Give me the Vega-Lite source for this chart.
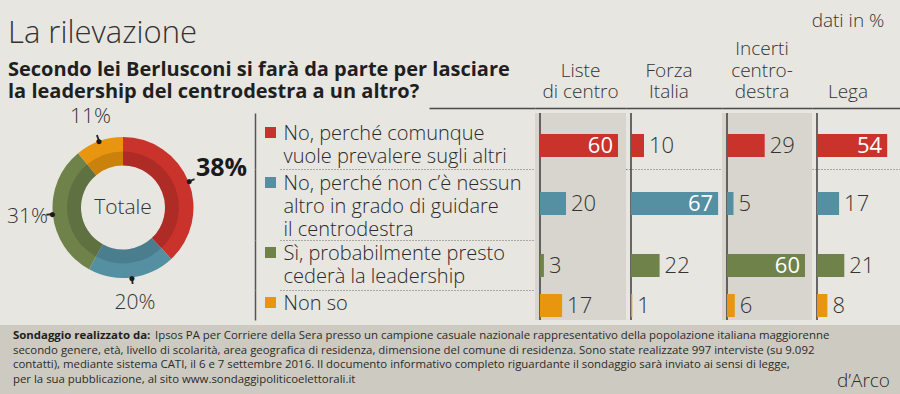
{
"$schema": "https://vega.github.io/schema/vega-lite/v6.json",
"background": "#e8e6e1",
"autosize": {"type": "none"},
"padding": {"left": 0, "top": 113, "right": 900, "bottom": 281},
"config": {"view": {"stroke": null}, "font": "Open Sans", "concat": {"spacing": 0}},
"datasets": {
 "totale": [
  {"id": 1, "risposta": "No, perché comunque vuole prevalere sugli altri", "valore": 38},
  {"id": 2, "risposta": "No, perché non c’è nessun altro in grado di guidare il centrodestra", "valore": 20},
  {"id": 3, "risposta": "Sì, probabilmente presto cederà la leadership", "valore": 31},
  {"id": 4, "risposta": "Non so", "valore": 11}
 ],
 "elettorati": [
  {"gruppo": "Liste di centro", "id": 1, "risposta": "No, perché comunque vuole prevalere sugli altri", "valore": 60},
  {"gruppo": "Liste di centro", "id": 2, "risposta": "No, perché non c’è nessun altro in grado di guidare il centrodestra", "valore": 20},
  {"gruppo": "Liste di centro", "id": 3, "risposta": "Sì, probabilmente presto cederà la leadership", "valore": 3},
  {"gruppo": "Liste di centro", "id": 4, "risposta": "Non so", "valore": 17},
  {"gruppo": "Forza Italia", "id": 1, "risposta": "No, perché comunque vuole prevalere sugli altri", "valore": 10},
  {"gruppo": "Forza Italia", "id": 2, "risposta": "No, perché non c’è nessun altro in grado di guidare il centrodestra", "valore": 67},
  {"gruppo": "Forza Italia", "id": 3, "risposta": "Sì, probabilmente presto cederà la leadership", "valore": 22},
  {"gruppo": "Forza Italia", "id": 4, "risposta": "Non so", "valore": 1},
  {"gruppo": "Incerti centrodestra", "id": 1, "risposta": "No, perché comunque vuole prevalere sugli altri", "valore": 29},
  {"gruppo": "Incerti centrodestra", "id": 2, "risposta": "No, perché non c’è nessun altro in grado di guidare il centrodestra", "valore": 5},
  {"gruppo": "Incerti centrodestra", "id": 3, "risposta": "Sì, probabilmente presto cederà la leadership", "valore": 60},
  {"gruppo": "Incerti centrodestra", "id": 4, "risposta": "Non so", "valore": 6},
  {"gruppo": "Lega", "id": 1, "risposta": "No, perché comunque vuole prevalere sugli altri", "valore": 54},
  {"gruppo": "Lega", "id": 2, "risposta": "No, perché non c’è nessun altro in grado di guidare il centrodestra", "valore": 17},
  {"gruppo": "Lega", "id": 3, "risposta": "Sì, probabilmente presto cederà la leadership", "valore": 21},
  {"gruppo": "Lega", "id": 4, "risposta": "Non so", "valore": 8}
 ],
 "nota": [
  {"riga": 1, "intro": "Sondaggio realizzato da:", "testo": "Ipsos PA per Corriere della Sera presso un campione casuale nazionale rappresentativo della popolazione italiana maggiorenne"},
  {"riga": 2, "testo": "secondo genere, età, livello di scolarità, area geografica di residenza, dimensione del comune di residenza. Sono state realizzate 997 interviste (su 9.092"},
  {"riga": 3, "testo": "contatti), mediante sistema CATI, il 6 e 7 settembre 2016. Il documento informativo completo riguardante il sondaggio sarà inviato ai sensi di legge,"},
  {"riga": 4, "testo": "per la sua pubblicazione, al sito www.sondaggipoliticoelettorali.it", "firma": "d’Arco"}
 ]
},
"vconcat": [
 {"hconcat": [
  {"width": 246, "height": 189,
   "title": {"text": "La rilevazione", "subtitle": ["Secondo lei Berlusconi si farà da parte per lasciare", "la leadership del centrodestra a un altro?"], "anchor": "start", "frame": "group", "dx": 8, "offset": 3, "font": "Open Sans", "fontSize": 31, "fontWeight": 300, "color": "#333333", "subtitleFont": "Open Sans", "subtitleFontSize": 20, "subtitleFontWeight": 700, "subtitleColor": "#1f1f1f", "subtitleLineHeight": 22, "subtitlePadding": 10},
   "data": {"name": "totale"},
   "layer": [
    {"mark": {"type": "arc", "innerRadius": 42, "outerRadius": 70.5},
     "encoding": {"theta": {"field": "valore", "type": "quantitative", "stack": true}, "order": {"field": "id", "type": "quantitative"},
      "color": {"field": "risposta", "type": "nominal", "scale": {"domain": ["No, perché comunque vuole prevalere sugli altri", "No, perché non c’è nessun altro in grado di guidare il centrodestra", "Sì, probabilmente presto cederà la leadership", "Non so"], "range": ["#c9332c", "#5590a2", "#6e824a", "#e8960f"]}, "legend": null}}},
    {"mark": {"type": "arc", "innerRadius": 42, "outerRadius": 56, "fill": "#000000", "fillOpacity": 0.13},
     "encoding": {"theta": {"field": "valore", "type": "quantitative", "stack": true}, "order": {"field": "id", "type": "quantitative"}}},
    {"transform": [{"stack": "valore", "groupby": [], "sort": [{"field": "id", "order": "ascending"}], "as": ["v0", "v1"]}, {"calculate": "(datum.v0 + datum.v1) / 2 - 0.2", "as": "a0"}, {"calculate": "(datum.v0 + datum.v1) / 2 + 0.2", "as": "a1"}],
     "mark": {"type": "arc", "innerRadius": 71, "outerRadius": 77, "fill": "#2a2a2a"},
     "encoding": {"theta": {"field": "a0", "type": "quantitative"}, "theta2": {"field": "a1"}}},
    {"mark": {"type": "text", "text": "●", "radius": 71, "fontSize": 12, "baseline": "middle", "color": "#1a1a1a"},
     "encoding": {"theta": {"field": "valore", "type": "quantitative", "stack": true}, "order": {"field": "id", "type": "quantitative"}}},
    {"transform": [{"filter": "datum.id === 1"}, {"calculate": "datum.valore + '%'", "as": "etichetta"}],
     "mark": {"type": "text", "radius": 106, "fontSize": 25, "fontWeight": 700, "baseline": "middle", "color": "#1a1a1a"},
     "encoding": {"theta": {"field": "valore", "type": "quantitative", "stack": true}, "order": {"field": "id", "type": "quantitative"}, "text": {"field": "etichetta"}}},
    {"transform": [{"calculate": "datum.valore + '%'", "as": "etichetta"}],
     "mark": {"type": "text", "radius": 96, "fontSize": 21, "fontWeight": 300, "baseline": "middle", "color": "#333333"},
     "encoding": {"theta": {"field": "valore", "type": "quantitative", "stack": true}, "order": {"field": "id", "type": "quantitative"}, "text": {"condition": {"test": "datum.id === 1", "value": ""}, "field": "etichetta"}}},
    {"data": {"values": [{"t": "Totale"}]},
     "mark": {"type": "text", "fontSize": 21, "fontWeight": 300, "baseline": "middle", "color": "#333333"},
     "encoding": {"text": {"field": "t"}}}
   ]},
  {"concat": [
    {"width": 255, "height": 56, "data": {"name": "totale"}, "transform": [{"filter": "datum.id === 1"}], "resolve": {"axis": {"x": "independent"}},
     "layer": [
      {"mark": {"type": "point", "shape": "square", "size": 121, "filled": true, "opacity": 1, "strokeWidth": 0, "xOffset": -9.5, "yOffset": -8.5},
       "encoding": {"x": {"datum": 0, "type": "quantitative", "scale": {"domain": [0, 1]}, "axis": {"orient": "bottom", "domain": true, "domainColor": "#6a6a6a", "domainWidth": 1, "domainDash": [1, 2], "ticks": false, "labels": false, "grid": false, "title": null}},
        "y": {"field": "risposta", "type": "nominal", "axis": {"orient": "left", "offset": 25, "domain": true, "domainColor": "#555555", "domainWidth": 1.5, "ticks": false, "grid": false, "title": null, "labelAlign": "left", "labelBaseline": "alphabetic", "labelPadding": -28, "labelFontSize": 20, "labelFontWeight": 300, "labelColor": "#2a2a2a", "labelLineHeight": 23, "labelOffset": -1.5, "labelLimit": 0, "labelOverlap": false, "labelExpr": "['No, perché comunque', 'vuole prevalere sugli altri']"}},
        "color": {"field": "risposta", "type": "nominal", "scale": {"domain": ["No, perché comunque vuole prevalere sugli altri", "No, perché non c’è nessun altro in grado di guidare il centrodestra", "Sì, probabilmente presto cederà la leadership", "Non so"], "range": ["#c9332c", "#5590a2", "#6e824a", "#e8960f"]}, "legend": null}}},
      {"mark": {"type": "rule", "strokeOpacity": 0},
       "encoding": {"x": {"datum": 0, "type": "quantitative", "axis": {"orient": "top", "offset": 5, "domain": true, "domainColor": "#4a4a4a", "domainWidth": 1.5, "domainDash": [0, 149, 106, 0], "ticks": false, "labels": false, "grid": false, "title": null}}}}
     ]},
    {"width": 91, "height": 56, "view": {"fill": "#d7d5cd"},
     "title": {"text": ["Liste", "di centro"], "anchor": "middle", "frame": "group", "dx": 0, "fontSize": 19, "fontWeight": 300, "color": "#333333", "lineHeight": 21.5, "offset": 6},
     "data": {"name": "elettorati"}, "transform": [{"filter": "datum.gruppo === 'Liste di centro' && datum.id === 1"}], "resolve": {"axis": {"x": "independent"}},
     "layer": [
      {"mark": {"type": "rule", "color": "#3b3b3b", "strokeWidth": 1.5}, "encoding": {"x": {"datum": 0, "type": "quantitative", "scale": {"domain": [-3.846, 66.154], "nice": false, "zero": false}, "axis": {"orient": "top", "offset": 5, "domain": true, "domainColor": "#4a4a4a", "domainWidth": 1.5, "ticks": false, "labels": false, "grid": false, "title": null}}}},
      {"mark": {"type": "bar", "height": 23, "yOffset": 4.5}, "encoding": {"x": {"field": "valore", "type": "quantitative", "axis": {"orient": "bottom", "domain": true, "domainColor": "#6a6a6a", "domainWidth": 1, "domainDash": [1, 2], "ticks": false, "labels": false, "grid": false, "title": null}}, "y": {"field": "risposta", "type": "nominal", "axis": null}, "color": {"field": "risposta", "type": "nominal", "legend": null}}},
      {"transform": [{"filter": "datum.valore < 50"}], "mark": {"type": "text", "align": "left", "baseline": "middle", "dx": 5, "yOffset": 4.5, "fontSize": 22, "fontWeight": 300, "color": "#333333"}, "encoding": {"x": {"field": "valore", "type": "quantitative", "axis": null}, "y": {"field": "risposta", "type": "nominal", "axis": null}, "text": {"field": "valore", "type": "quantitative"}}},
      {"transform": [{"filter": "datum.valore >= 50"}], "mark": {"type": "text", "align": "right", "baseline": "middle", "dx": -5, "yOffset": 4.5, "fontSize": 22, "fontWeight": 400, "color": "#ffffff"}, "encoding": {"x": {"field": "valore", "type": "quantitative", "axis": null}, "y": {"field": "risposta", "type": "nominal", "axis": null}, "text": {"field": "valore", "type": "quantitative"}}}
     ]},
    {"width": 96, "height": 56,
     "title": {"text": ["Forza", "Italia"], "anchor": "middle", "frame": "group", "dx": -5, "fontSize": 19, "fontWeight": 300, "color": "#333333", "lineHeight": 21.5, "offset": 6},
     "data": {"name": "elettorati"}, "transform": [{"filter": "datum.gruppo === 'Forza Italia' && datum.id === 1"}], "resolve": {"axis": {"x": "independent"}},
     "layer": [
      {"mark": {"type": "rule", "color": "#3b3b3b", "strokeWidth": 1.5}, "encoding": {"x": {"datum": 0, "type": "quantitative", "scale": {"domain": [-3.846, 70], "nice": false, "zero": false}, "axis": {"orient": "top", "offset": 5, "domain": true, "domainColor": "#4a4a4a", "domainWidth": 1.5, "ticks": false, "labels": false, "grid": false, "title": null}}}},
      {"mark": {"type": "bar", "height": 23, "yOffset": 4.5}, "encoding": {"x": {"field": "valore", "type": "quantitative", "axis": {"orient": "bottom", "domain": true, "domainColor": "#6a6a6a", "domainWidth": 1, "domainDash": [1, 2], "ticks": false, "labels": false, "grid": false, "title": null}}, "y": {"field": "risposta", "type": "nominal", "axis": null}, "color": {"field": "risposta", "type": "nominal", "legend": null}}},
      {"transform": [{"filter": "datum.valore < 50"}], "mark": {"type": "text", "align": "left", "baseline": "middle", "dx": 5, "yOffset": 4.5, "fontSize": 22, "fontWeight": 300, "color": "#333333"}, "encoding": {"x": {"field": "valore", "type": "quantitative", "axis": null}, "y": {"field": "risposta", "type": "nominal", "axis": null}, "text": {"field": "valore", "type": "quantitative"}}},
      {"transform": [{"filter": "datum.valore >= 50"}], "mark": {"type": "text", "align": "right", "baseline": "middle", "dx": -5, "yOffset": 4.5, "fontSize": 22, "fontWeight": 400, "color": "#ffffff"}, "encoding": {"x": {"field": "valore", "type": "quantitative", "axis": null}, "y": {"field": "risposta", "type": "nominal", "axis": null}, "text": {"field": "valore", "type": "quantitative"}}}
     ]},
    {"width": 90, "height": 56, "view": {"fill": "#d7d5cd"},
     "title": {"text": ["Incerti", "centro-", "destra"], "anchor": "middle", "frame": "group", "dx": -5, "fontSize": 19, "fontWeight": 300, "color": "#333333", "lineHeight": 21.5, "offset": 6},
     "data": {"name": "elettorati"}, "transform": [{"filter": "datum.gruppo === 'Incerti centrodestra' && datum.id === 1"}], "resolve": {"axis": {"x": "independent"}},
     "layer": [
      {"mark": {"type": "rule", "color": "#3b3b3b", "strokeWidth": 1.5}, "encoding": {"x": {"datum": 0, "type": "quantitative", "scale": {"domain": [-3.846, 65.385], "nice": false, "zero": false}, "axis": {"orient": "top", "offset": 5, "domain": true, "domainColor": "#4a4a4a", "domainWidth": 1.5, "ticks": false, "labels": false, "grid": false, "title": null}}}},
      {"mark": {"type": "bar", "height": 23, "yOffset": 4.5}, "encoding": {"x": {"field": "valore", "type": "quantitative", "axis": {"orient": "bottom", "domain": true, "domainColor": "#6a6a6a", "domainWidth": 1, "domainDash": [1, 2], "ticks": false, "labels": false, "grid": false, "title": null}}, "y": {"field": "risposta", "type": "nominal", "axis": null}, "color": {"field": "risposta", "type": "nominal", "legend": null}}},
      {"transform": [{"filter": "datum.valore < 50"}], "mark": {"type": "text", "align": "left", "baseline": "middle", "dx": 5, "yOffset": 4.5, "fontSize": 22, "fontWeight": 300, "color": "#333333"}, "encoding": {"x": {"field": "valore", "type": "quantitative", "axis": null}, "y": {"field": "risposta", "type": "nominal", "axis": null}, "text": {"field": "valore", "type": "quantitative"}}},
      {"transform": [{"filter": "datum.valore >= 50"}], "mark": {"type": "text", "align": "right", "baseline": "middle", "dx": -5, "yOffset": 4.5, "fontSize": 22, "fontWeight": 400, "color": "#ffffff"}, "encoding": {"x": {"field": "valore", "type": "quantitative", "axis": null}, "y": {"field": "risposta", "type": "nominal", "axis": null}, "text": {"field": "valore", "type": "quantitative"}}}
     ]},
    {"width": 88, "height": 56,
     "title": {"text": "dati in %", "subtitle": "Lega", "anchor": "middle", "frame": "group", "dx": -8, "fontSize": 19, "fontWeight": 300, "color": "#333333", "subtitleFont": "Open Sans", "subtitleFontSize": 19, "subtitleFontWeight": 300, "subtitleColor": "#333333", "subtitlePadding": 52, "offset": 6},
     "data": {"name": "elettorati"}, "transform": [{"filter": "datum.gruppo === 'Lega' && datum.id === 1"}], "resolve": {"axis": {"x": "independent"}},
     "layer": [
      {"mark": {"type": "rule", "color": "#3b3b3b", "strokeWidth": 1.5}, "encoding": {"x": {"datum": 0, "type": "quantitative", "scale": {"domain": [-3.846, 63.846], "nice": false, "zero": false}, "axis": {"orient": "top", "offset": 5, "domain": true, "domainColor": "#4a4a4a", "domainWidth": 1.5, "ticks": false, "labels": false, "grid": false, "title": null}}}},
      {"mark": {"type": "bar", "height": 23, "yOffset": 4.5}, "encoding": {"x": {"field": "valore", "type": "quantitative", "axis": {"orient": "bottom", "domain": true, "domainColor": "#6a6a6a", "domainWidth": 1, "domainDash": [1, 2], "ticks": false, "labels": false, "grid": false, "title": null}}, "y": {"field": "risposta", "type": "nominal", "axis": null}, "color": {"field": "risposta", "type": "nominal", "legend": null}}},
      {"transform": [{"filter": "datum.valore < 50"}], "mark": {"type": "text", "align": "left", "baseline": "middle", "dx": 5, "yOffset": 4.5, "fontSize": 22, "fontWeight": 300, "color": "#333333"}, "encoding": {"x": {"field": "valore", "type": "quantitative", "axis": null}, "y": {"field": "risposta", "type": "nominal", "axis": null}, "text": {"field": "valore", "type": "quantitative"}}},
      {"transform": [{"filter": "datum.valore >= 50"}], "mark": {"type": "text", "align": "right", "baseline": "middle", "dx": -5, "yOffset": 4.5, "fontSize": 22, "fontWeight": 400, "color": "#ffffff"}, "encoding": {"x": {"field": "valore", "type": "quantitative", "axis": null}, "y": {"field": "risposta", "type": "nominal", "axis": null}, "text": {"field": "valore", "type": "quantitative"}}}
     ]},
    {"width": 255, "height": 71, "data": {"name": "totale"}, "transform": [{"filter": "datum.id === 2"}],
     "layer": [
      {"mark": {"type": "point", "shape": "square", "size": 121, "filled": true, "opacity": 1, "strokeWidth": 0, "xOffset": -9.5, "yOffset": -22},
       "encoding": {"x": {"datum": 0, "type": "quantitative", "scale": {"domain": [0, 1]}, "axis": {"orient": "bottom", "domain": true, "domainColor": "#6a6a6a", "domainWidth": 1, "domainDash": [1, 2], "ticks": false, "labels": false, "grid": false, "title": null}},
        "y": {"field": "risposta", "type": "nominal", "axis": {"orient": "left", "offset": 25, "domain": true, "domainColor": "#555555", "domainWidth": 1.5, "ticks": false, "grid": false, "title": null, "labelAlign": "left", "labelBaseline": "alphabetic", "labelPadding": -28, "labelFontSize": 20, "labelFontWeight": 300, "labelColor": "#2a2a2a", "labelLineHeight": 23, "labelOffset": -15, "labelLimit": 0, "labelOverlap": false, "labelExpr": "['No, perché non c’è nessun', 'altro in grado di guidare', 'il centrodestra']"}},
        "color": {"field": "risposta", "type": "nominal", "legend": null}}}
     ]},
    {"width": 91, "height": 71, "view": {"fill": "#d7d5cd"},
     "data": {"name": "elettorati"}, "transform": [{"filter": "datum.gruppo === 'Liste di centro' && datum.id === 2"}],
     "layer": [
      {"mark": {"type": "rule", "color": "#3b3b3b", "strokeWidth": 1.5}, "encoding": {"x": {"datum": 0, "type": "quantitative", "scale": {"domain": [-3.846, 66.154], "nice": false, "zero": false}, "axis": null}}},
      {"mark": {"type": "bar", "height": 23, "yOffset": -1}, "encoding": {"x": {"field": "valore", "type": "quantitative", "axis": {"orient": "bottom", "domain": true, "domainColor": "#6a6a6a", "domainWidth": 1, "domainDash": [1, 2], "ticks": false, "labels": false, "grid": false, "title": null}}, "y": {"field": "risposta", "type": "nominal", "axis": null}, "color": {"field": "risposta", "type": "nominal", "legend": null}}},
      {"transform": [{"filter": "datum.valore < 50"}], "mark": {"type": "text", "align": "left", "baseline": "middle", "dx": 5, "yOffset": -1, "fontSize": 22, "fontWeight": 300, "color": "#333333"}, "encoding": {"x": {"field": "valore", "type": "quantitative"}, "y": {"field": "risposta", "type": "nominal", "axis": null}, "text": {"field": "valore", "type": "quantitative"}}},
      {"transform": [{"filter": "datum.valore >= 50"}], "mark": {"type": "text", "align": "right", "baseline": "middle", "dx": -5, "yOffset": -1, "fontSize": 22, "fontWeight": 400, "color": "#ffffff"}, "encoding": {"x": {"field": "valore", "type": "quantitative"}, "y": {"field": "risposta", "type": "nominal", "axis": null}, "text": {"field": "valore", "type": "quantitative"}}}
     ]},
    {"width": 96, "height": 71,
     "data": {"name": "elettorati"}, "transform": [{"filter": "datum.gruppo === 'Forza Italia' && datum.id === 2"}],
     "layer": [
      {"mark": {"type": "rule", "color": "#3b3b3b", "strokeWidth": 1.5}, "encoding": {"x": {"datum": 0, "type": "quantitative", "scale": {"domain": [-3.846, 70], "nice": false, "zero": false}, "axis": null}}},
      {"mark": {"type": "bar", "height": 23, "yOffset": -1}, "encoding": {"x": {"field": "valore", "type": "quantitative", "axis": {"orient": "bottom", "domain": true, "domainColor": "#6a6a6a", "domainWidth": 1, "domainDash": [1, 2], "ticks": false, "labels": false, "grid": false, "title": null}}, "y": {"field": "risposta", "type": "nominal", "axis": null}, "color": {"field": "risposta", "type": "nominal", "legend": null}}},
      {"transform": [{"filter": "datum.valore < 50"}], "mark": {"type": "text", "align": "left", "baseline": "middle", "dx": 5, "yOffset": -1, "fontSize": 22, "fontWeight": 300, "color": "#333333"}, "encoding": {"x": {"field": "valore", "type": "quantitative"}, "y": {"field": "risposta", "type": "nominal", "axis": null}, "text": {"field": "valore", "type": "quantitative"}}},
      {"transform": [{"filter": "datum.valore >= 50"}], "mark": {"type": "text", "align": "right", "baseline": "middle", "dx": -5, "yOffset": -1, "fontSize": 22, "fontWeight": 400, "color": "#ffffff"}, "encoding": {"x": {"field": "valore", "type": "quantitative"}, "y": {"field": "risposta", "type": "nominal", "axis": null}, "text": {"field": "valore", "type": "quantitative"}}}
     ]},
    {"width": 90, "height": 71, "view": {"fill": "#d7d5cd"},
     "data": {"name": "elettorati"}, "transform": [{"filter": "datum.gruppo === 'Incerti centrodestra' && datum.id === 2"}],
     "layer": [
      {"mark": {"type": "rule", "color": "#3b3b3b", "strokeWidth": 1.5}, "encoding": {"x": {"datum": 0, "type": "quantitative", "scale": {"domain": [-3.846, 65.385], "nice": false, "zero": false}, "axis": null}}},
      {"mark": {"type": "bar", "height": 23, "yOffset": -1}, "encoding": {"x": {"field": "valore", "type": "quantitative", "axis": {"orient": "bottom", "domain": true, "domainColor": "#6a6a6a", "domainWidth": 1, "domainDash": [1, 2], "ticks": false, "labels": false, "grid": false, "title": null}}, "y": {"field": "risposta", "type": "nominal", "axis": null}, "color": {"field": "risposta", "type": "nominal", "legend": null}}},
      {"transform": [{"filter": "datum.valore < 50"}], "mark": {"type": "text", "align": "left", "baseline": "middle", "dx": 5, "yOffset": -1, "fontSize": 22, "fontWeight": 300, "color": "#333333"}, "encoding": {"x": {"field": "valore", "type": "quantitative"}, "y": {"field": "risposta", "type": "nominal", "axis": null}, "text": {"field": "valore", "type": "quantitative"}}},
      {"transform": [{"filter": "datum.valore >= 50"}], "mark": {"type": "text", "align": "right", "baseline": "middle", "dx": -5, "yOffset": -1, "fontSize": 22, "fontWeight": 400, "color": "#ffffff"}, "encoding": {"x": {"field": "valore", "type": "quantitative"}, "y": {"field": "risposta", "type": "nominal", "axis": null}, "text": {"field": "valore", "type": "quantitative"}}}
     ]},
    {"width": 88, "height": 71,
     "data": {"name": "elettorati"}, "transform": [{"filter": "datum.gruppo === 'Lega' && datum.id === 2"}],
     "layer": [
      {"mark": {"type": "rule", "color": "#3b3b3b", "strokeWidth": 1.5}, "encoding": {"x": {"datum": 0, "type": "quantitative", "scale": {"domain": [-3.846, 63.846], "nice": false, "zero": false}, "axis": null}}},
      {"mark": {"type": "bar", "height": 23, "yOffset": -1}, "encoding": {"x": {"field": "valore", "type": "quantitative", "axis": {"orient": "bottom", "domain": true, "domainColor": "#6a6a6a", "domainWidth": 1, "domainDash": [1, 2], "ticks": false, "labels": false, "grid": false, "title": null}}, "y": {"field": "risposta", "type": "nominal", "axis": null}, "color": {"field": "risposta", "type": "nominal", "legend": null}}},
      {"transform": [{"filter": "datum.valore < 50"}], "mark": {"type": "text", "align": "left", "baseline": "middle", "dx": 5, "yOffset": -1, "fontSize": 22, "fontWeight": 300, "color": "#333333"}, "encoding": {"x": {"field": "valore", "type": "quantitative"}, "y": {"field": "risposta", "type": "nominal", "axis": null}, "text": {"field": "valore", "type": "quantitative"}}},
      {"transform": [{"filter": "datum.valore >= 50"}], "mark": {"type": "text", "align": "right", "baseline": "middle", "dx": -5, "yOffset": -1, "fontSize": 22, "fontWeight": 400, "color": "#ffffff"}, "encoding": {"x": {"field": "valore", "type": "quantitative"}, "y": {"field": "risposta", "type": "nominal", "axis": null}, "text": {"field": "valore", "type": "quantitative"}}}
     ]},
    {"width": 255, "height": 50, "data": {"name": "totale"}, "transform": [{"filter": "datum.id === 3"}],
     "layer": [
      {"mark": {"type": "point", "shape": "square", "size": 121, "filled": true, "opacity": 1, "strokeWidth": 0, "xOffset": -9.5, "yOffset": -12.5},
       "encoding": {"x": {"datum": 0, "type": "quantitative", "scale": {"domain": [0, 1]}, "axis": {"orient": "bottom", "domain": true, "domainColor": "#6a6a6a", "domainWidth": 1, "domainDash": [1, 2], "ticks": false, "labels": false, "grid": false, "title": null}},
        "y": {"field": "risposta", "type": "nominal", "axis": {"orient": "left", "offset": 25, "domain": true, "domainColor": "#555555", "domainWidth": 1.5, "ticks": false, "grid": false, "title": null, "labelAlign": "left", "labelBaseline": "alphabetic", "labelPadding": -28, "labelFontSize": 20, "labelFontWeight": 300, "labelColor": "#2a2a2a", "labelLineHeight": 23, "labelOffset": -5.5, "labelLimit": 0, "labelOverlap": false, "labelExpr": "['Sì, probabilmente presto', 'cederà la leadership']"}},
        "color": {"field": "risposta", "type": "nominal", "legend": null}}}
     ]},
    {"width": 91, "height": 50, "view": {"fill": "#d7d5cd"},
     "data": {"name": "elettorati"}, "transform": [{"filter": "datum.gruppo === 'Liste di centro' && datum.id === 3"}],
     "layer": [
      {"mark": {"type": "rule", "color": "#3b3b3b", "strokeWidth": 1.5}, "encoding": {"x": {"datum": 0, "type": "quantitative", "scale": {"domain": [-3.846, 66.154], "nice": false, "zero": false}, "axis": null}}},
      {"mark": {"type": "bar", "height": 23, "yOffset": 0.5}, "encoding": {"x": {"field": "valore", "type": "quantitative", "axis": {"orient": "bottom", "domain": true, "domainColor": "#6a6a6a", "domainWidth": 1, "domainDash": [1, 2], "ticks": false, "labels": false, "grid": false, "title": null}}, "y": {"field": "risposta", "type": "nominal", "axis": null}, "color": {"field": "risposta", "type": "nominal", "legend": null}}},
      {"transform": [{"filter": "datum.valore < 50"}], "mark": {"type": "text", "align": "left", "baseline": "middle", "dx": 5, "yOffset": 0.5, "fontSize": 22, "fontWeight": 300, "color": "#333333"}, "encoding": {"x": {"field": "valore", "type": "quantitative"}, "y": {"field": "risposta", "type": "nominal", "axis": null}, "text": {"field": "valore", "type": "quantitative"}}},
      {"transform": [{"filter": "datum.valore >= 50"}], "mark": {"type": "text", "align": "right", "baseline": "middle", "dx": -5, "yOffset": 0.5, "fontSize": 22, "fontWeight": 400, "color": "#ffffff"}, "encoding": {"x": {"field": "valore", "type": "quantitative"}, "y": {"field": "risposta", "type": "nominal", "axis": null}, "text": {"field": "valore", "type": "quantitative"}}}
     ]},
    {"width": 96, "height": 50,
     "data": {"name": "elettorati"}, "transform": [{"filter": "datum.gruppo === 'Forza Italia' && datum.id === 3"}],
     "layer": [
      {"mark": {"type": "rule", "color": "#3b3b3b", "strokeWidth": 1.5}, "encoding": {"x": {"datum": 0, "type": "quantitative", "scale": {"domain": [-3.846, 70], "nice": false, "zero": false}, "axis": null}}},
      {"mark": {"type": "bar", "height": 23, "yOffset": 0.5}, "encoding": {"x": {"field": "valore", "type": "quantitative", "axis": {"orient": "bottom", "domain": true, "domainColor": "#6a6a6a", "domainWidth": 1, "domainDash": [1, 2], "ticks": false, "labels": false, "grid": false, "title": null}}, "y": {"field": "risposta", "type": "nominal", "axis": null}, "color": {"field": "risposta", "type": "nominal", "legend": null}}},
      {"transform": [{"filter": "datum.valore < 50"}], "mark": {"type": "text", "align": "left", "baseline": "middle", "dx": 5, "yOffset": 0.5, "fontSize": 22, "fontWeight": 300, "color": "#333333"}, "encoding": {"x": {"field": "valore", "type": "quantitative"}, "y": {"field": "risposta", "type": "nominal", "axis": null}, "text": {"field": "valore", "type": "quantitative"}}},
      {"transform": [{"filter": "datum.valore >= 50"}], "mark": {"type": "text", "align": "right", "baseline": "middle", "dx": -5, "yOffset": 0.5, "fontSize": 22, "fontWeight": 400, "color": "#ffffff"}, "encoding": {"x": {"field": "valore", "type": "quantitative"}, "y": {"field": "risposta", "type": "nominal", "axis": null}, "text": {"field": "valore", "type": "quantitative"}}}
     ]},
    {"width": 90, "height": 50, "view": {"fill": "#d7d5cd"},
     "data": {"name": "elettorati"}, "transform": [{"filter": "datum.gruppo === 'Incerti centrodestra' && datum.id === 3"}],
     "layer": [
      {"mark": {"type": "rule", "color": "#3b3b3b", "strokeWidth": 1.5}, "encoding": {"x": {"datum": 0, "type": "quantitative", "scale": {"domain": [-3.846, 65.385], "nice": false, "zero": false}, "axis": null}}},
      {"mark": {"type": "bar", "height": 23, "yOffset": 0.5}, "encoding": {"x": {"field": "valore", "type": "quantitative", "axis": {"orient": "bottom", "domain": true, "domainColor": "#6a6a6a", "domainWidth": 1, "domainDash": [1, 2], "ticks": false, "labels": false, "grid": false, "title": null}}, "y": {"field": "risposta", "type": "nominal", "axis": null}, "color": {"field": "risposta", "type": "nominal", "legend": null}}},
      {"transform": [{"filter": "datum.valore < 50"}], "mark": {"type": "text", "align": "left", "baseline": "middle", "dx": 5, "yOffset": 0.5, "fontSize": 22, "fontWeight": 300, "color": "#333333"}, "encoding": {"x": {"field": "valore", "type": "quantitative"}, "y": {"field": "risposta", "type": "nominal", "axis": null}, "text": {"field": "valore", "type": "quantitative"}}},
      {"transform": [{"filter": "datum.valore >= 50"}], "mark": {"type": "text", "align": "right", "baseline": "middle", "dx": -5, "yOffset": 0.5, "fontSize": 22, "fontWeight": 400, "color": "#ffffff"}, "encoding": {"x": {"field": "valore", "type": "quantitative"}, "y": {"field": "risposta", "type": "nominal", "axis": null}, "text": {"field": "valore", "type": "quantitative"}}}
     ]},
    {"width": 88, "height": 50,
     "data": {"name": "elettorati"}, "transform": [{"filter": "datum.gruppo === 'Lega' && datum.id === 3"}],
     "layer": [
      {"mark": {"type": "rule", "color": "#3b3b3b", "strokeWidth": 1.5}, "encoding": {"x": {"datum": 0, "type": "quantitative", "scale": {"domain": [-3.846, 63.846], "nice": false, "zero": false}, "axis": null}}},
      {"mark": {"type": "bar", "height": 23, "yOffset": 0.5}, "encoding": {"x": {"field": "valore", "type": "quantitative", "axis": {"orient": "bottom", "domain": true, "domainColor": "#6a6a6a", "domainWidth": 1, "domainDash": [1, 2], "ticks": false, "labels": false, "grid": false, "title": null}}, "y": {"field": "risposta", "type": "nominal", "axis": null}, "color": {"field": "risposta", "type": "nominal", "legend": null}}},
      {"transform": [{"filter": "datum.valore < 50"}], "mark": {"type": "text", "align": "left", "baseline": "middle", "dx": 5, "yOffset": 0.5, "fontSize": 22, "fontWeight": 300, "color": "#333333"}, "encoding": {"x": {"field": "valore", "type": "quantitative"}, "y": {"field": "risposta", "type": "nominal", "axis": null}, "text": {"field": "valore", "type": "quantitative"}}},
      {"transform": [{"filter": "datum.valore >= 50"}], "mark": {"type": "text", "align": "right", "baseline": "middle", "dx": -5, "yOffset": 0.5, "fontSize": 22, "fontWeight": 400, "color": "#ffffff"}, "encoding": {"x": {"field": "valore", "type": "quantitative"}, "y": {"field": "risposta", "type": "nominal", "axis": null}, "text": {"field": "valore", "type": "quantitative"}}}
     ]},
    {"width": 255, "height": 30, "data": {"name": "totale"}, "transform": [{"filter": "datum.id === 4"}],
     "layer": [
      {"mark": {"type": "point", "shape": "square", "size": 121, "filled": true, "opacity": 1, "strokeWidth": 0, "xOffset": -9.5, "yOffset": -2.5},
       "encoding": {"x": {"datum": 0, "type": "quantitative", "scale": {"domain": [0, 1]}, "axis": null},
        "y": {"field": "risposta", "type": "nominal", "axis": {"orient": "left", "offset": 25, "domain": true, "domainColor": "#555555", "domainWidth": 1.5, "ticks": false, "grid": false, "title": null, "labelAlign": "left", "labelBaseline": "alphabetic", "labelPadding": -28, "labelFontSize": 20, "labelFontWeight": 300, "labelColor": "#2a2a2a", "labelLineHeight": 23, "labelOffset": 4, "labelLimit": 0, "labelOverlap": false, "labelExpr": "'Non so'"}},
        "color": {"field": "risposta", "type": "nominal", "legend": null}}}
     ]},
    {"width": 91, "height": 30, "view": {"fill": "#d7d5cd"},
     "data": {"name": "elettorati"}, "transform": [{"filter": "datum.gruppo === 'Liste di centro' && datum.id === 4"}],
     "layer": [
      {"mark": {"type": "rule", "color": "#3b3b3b", "strokeWidth": 1.5}, "encoding": {"x": {"datum": 0, "type": "quantitative", "scale": {"domain": [-3.846, 66.154], "nice": false, "zero": false}, "axis": null}}},
      {"mark": {"type": "bar", "height": 23, "yOffset": 0.5}, "encoding": {"x": {"field": "valore", "type": "quantitative", "axis": null}, "y": {"field": "risposta", "type": "nominal", "axis": null}, "color": {"field": "risposta", "type": "nominal", "legend": null}}},
      {"transform": [{"filter": "datum.valore < 50"}], "mark": {"type": "text", "align": "left", "baseline": "middle", "dx": 5, "yOffset": 0.5, "fontSize": 22, "fontWeight": 300, "color": "#333333"}, "encoding": {"x": {"field": "valore", "type": "quantitative"}, "y": {"field": "risposta", "type": "nominal", "axis": null}, "text": {"field": "valore", "type": "quantitative"}}}
     ]},
    {"width": 96, "height": 30,
     "data": {"name": "elettorati"}, "transform": [{"filter": "datum.gruppo === 'Forza Italia' && datum.id === 4"}],
     "layer": [
      {"mark": {"type": "rule", "color": "#3b3b3b", "strokeWidth": 1.5}, "encoding": {"x": {"datum": 0, "type": "quantitative", "scale": {"domain": [-3.846, 70], "nice": false, "zero": false}, "axis": null}}},
      {"mark": {"type": "bar", "height": 23, "yOffset": 0.5}, "encoding": {"x": {"field": "valore", "type": "quantitative", "axis": null}, "y": {"field": "risposta", "type": "nominal", "axis": null}, "color": {"field": "risposta", "type": "nominal", "legend": null}}},
      {"transform": [{"filter": "datum.valore < 50"}], "mark": {"type": "text", "align": "left", "baseline": "middle", "dx": 5, "yOffset": 0.5, "fontSize": 22, "fontWeight": 300, "color": "#333333"}, "encoding": {"x": {"field": "valore", "type": "quantitative"}, "y": {"field": "risposta", "type": "nominal", "axis": null}, "text": {"field": "valore", "type": "quantitative"}}}
     ]},
    {"width": 90, "height": 30, "view": {"fill": "#d7d5cd"},
     "data": {"name": "elettorati"}, "transform": [{"filter": "datum.gruppo === 'Incerti centrodestra' && datum.id === 4"}],
     "layer": [
      {"mark": {"type": "rule", "color": "#3b3b3b", "strokeWidth": 1.5}, "encoding": {"x": {"datum": 0, "type": "quantitative", "scale": {"domain": [-3.846, 65.385], "nice": false, "zero": false}, "axis": null}}},
      {"mark": {"type": "bar", "height": 23, "yOffset": 0.5}, "encoding": {"x": {"field": "valore", "type": "quantitative", "axis": null}, "y": {"field": "risposta", "type": "nominal", "axis": null}, "color": {"field": "risposta", "type": "nominal", "legend": null}}},
      {"transform": [{"filter": "datum.valore < 50"}], "mark": {"type": "text", "align": "left", "baseline": "middle", "dx": 5, "yOffset": 0.5, "fontSize": 22, "fontWeight": 300, "color": "#333333"}, "encoding": {"x": {"field": "valore", "type": "quantitative"}, "y": {"field": "risposta", "type": "nominal", "axis": null}, "text": {"field": "valore", "type": "quantitative"}}}
     ]},
    {"width": 88, "height": 30,
     "data": {"name": "elettorati"}, "transform": [{"filter": "datum.gruppo === 'Lega' && datum.id === 4"}],
     "layer": [
      {"mark": {"type": "rule", "color": "#3b3b3b", "strokeWidth": 1.5}, "encoding": {"x": {"datum": 0, "type": "quantitative", "scale": {"domain": [-3.846, 63.846], "nice": false, "zero": false}, "axis": null}}},
      {"mark": {"type": "bar", "height": 23, "yOffset": 0.5}, "encoding": {"x": {"field": "valore", "type": "quantitative", "axis": null}, "y": {"field": "risposta", "type": "nominal", "axis": null}, "color": {"field": "risposta", "type": "nominal", "legend": null}}},
      {"transform": [{"filter": "datum.valore < 50"}], "mark": {"type": "text", "align": "left", "baseline": "middle", "dx": 5, "yOffset": 0.5, "fontSize": 22, "fontWeight": 300, "color": "#333333"}, "encoding": {"x": {"field": "valore", "type": "quantitative"}, "y": {"field": "risposta", "type": "nominal", "axis": null}, "text": {"field": "valore", "type": "quantitative"}}}
     ]}
  ], "columns": 5, "spacing": 0, "bounds": "flush"}
 ], "spacing": 34, "bounds": "flush"},
 {"width": 900, "height": 69, "view": {"fill": "#cdcac1"},
  "data": {"name": "nota"},
  "layer": [
   {"transform": [{"filter": "datum.riga === 1"}],
    "mark": {"type": "text", "align": "left", "baseline": "alphabetic", "dx": 13, "font": "Open Sans", "fontSize": 11.4, "fontWeight": "bold", "color": "#1e1e1e"},
    "encoding": {"x": {"datum": 0, "type": "quantitative", "scale": {"domain": [0, 1]}, "axis": null}, "y": {"field": "riga", "type": "ordinal", "axis": null, "scale": {"type": "point", "domain": [1, 2, 3, 4], "padding": 0.88, "align": 0.55}}, "text": {"field": "intro"}}},
   {"transform": [{"filter": "datum.riga === 1"}],
    "mark": {"type": "text", "align": "left", "baseline": "alphabetic", "dx": 155, "font": "Open Sans", "fontSize": 11.4, "fontWeight": "normal", "color": "#2a2a2a"},
    "encoding": {"x": {"datum": 0, "type": "quantitative", "axis": null}, "y": {"field": "riga", "type": "ordinal", "axis": null}, "text": {"field": "testo"}}},
   {"transform": [{"filter": "datum.riga > 1"}],
    "mark": {"type": "text", "align": "left", "baseline": "alphabetic", "dx": 13, "font": "Open Sans", "fontSize": 11.4, "fontWeight": "normal", "color": "#2a2a2a"},
    "encoding": {"x": {"datum": 0, "type": "quantitative", "axis": null}, "y": {"field": "riga", "type": "ordinal", "axis": null}, "text": {"field": "testo"}}},
   {"transform": [{"filter": "datum.riga === 4"}],
    "mark": {"type": "text", "align": "right", "baseline": "alphabetic", "dx": -10, "dy": 4.5, "fontSize": 19, "fontWeight": 300, "color": "#2a2a2a"},
    "encoding": {"x": {"datum": 1, "type": "quantitative", "axis": null}, "y": {"field": "riga", "type": "ordinal", "axis": null}, "text": {"field": "firma"}}}
  ]}
],
"spacing": 212,
"bounds": "flush"
}
